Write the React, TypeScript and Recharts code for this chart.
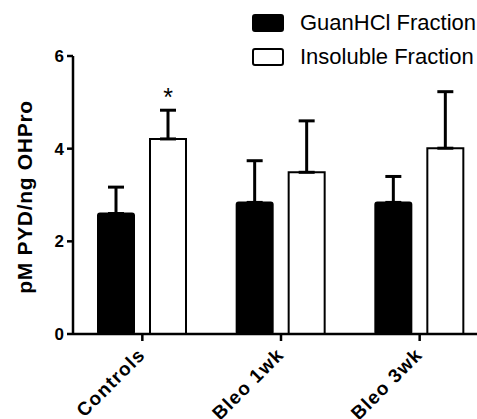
import React from "react";
import { BarChart, Bar, XAxis, YAxis, Legend, ErrorBar, LabelList, Label } from "recharts";

const categories = ["Controls", "Bleo 1wk", "Bleo 3wk"];
const guanhcl = [2.6, 2.84, 2.84];
const guanhclErr = [0.57, 0.9, 0.56];
const insoluble = [4.21, 3.49, 4.01];
const insolubleErr = [0.62, 1.11, 1.22];
const signif = ["*", "", ""];
const yTicks = [0, 2, 4, 6];

const data = categories.map((name, i) => ({
  name,
  guan: guanhcl[i],
  guanErr: [0, guanhclErr[i]],
  insol: insoluble[i],
  insolErr: [0, insolubleErr[i]],
  sig: signif[i],
}));

const font = '"Liberation Sans", Arial, Helvetica, sans-serif';

const XTick = (props: any) => {
  const { x, y, payload } = props;
  return (
    <g transform={`translate(${x + 4},${y + 13})`}>
      <text
        textAnchor="end"
        transform="rotate(-45)"
        fontSize={19}
        fontWeight="bold"
        letterSpacing={1.2}
        fill="#000"
        fontFamily={font}
      >
        {payload.value}
      </text>
    </g>
  );
};

const YLabel = (props: any) => {
  const vb = props.viewBox;
  const cx = vb.x + 32;
  const cy = vb.y + vb.height / 2 + 2;
  return (
    <text
      x={cx}
      y={cy}
      transform={`rotate(-90 ${cx} ${cy})`}
      textAnchor="middle"
      fontSize={21}
      fontWeight="bold"
      letterSpacing={0.7}
      fill="#000"
      fontFamily={font}
    >
      pM PYD/ng OHPro
    </text>
  );
};

const Star = (props: any) => {
  const { x, y, width, value } = props;
  if (!value) return null;
  return (
    <text
      x={Number(x) + Number(width) / 2}
      y={Number(y) - 33}
      textAnchor="middle"
      fontSize={25}
      fill="#000"
      fontFamily={font}
    >
      {value}
    </text>
  );
};

const renderLegend = (props: any) => {
  const { payload } = props;
  return (
    <div style={{ fontFamily: font, fontSize: 22, color: "#000", whiteSpace: "nowrap" }}>
      {payload.map((entry: any, i: number) => (
        <div key={i} style={{ display: "flex", alignItems: "center", height: 34 }}>
          <span
            style={{
              display: "inline-block",
              width: 28,
              height: 14,
              background: entry.color,
              border: "2px solid #000",
              borderRadius: 3,
              marginRight: 16,
            }}
          />
          <span>{entry.value}</span>
        </div>
      ))}
    </div>
  );
};

export default function App() {
  return (
    <div
      style={{
        position: "fixed",
        top: 0,
        left: 0,
        width: 477,
        height: 419,
        overflow: "hidden",
        background: "#fff",
      }}
    >
      <BarChart
        width={500}
        height={419}
        data={data}
        margin={{ top: 56, right: 11, bottom: 0, left: 0 }}
        barGap={16}
      >
        <XAxis
          dataKey="name"
          height={85}
          interval={0}
          tickSize={7}
          axisLine={{ stroke: "#000", strokeWidth: 2.5 }}
          tickLine={{ stroke: "#000", strokeWidth: 2.5 }}
          tick={<XTick />}
        />
        <YAxis
          domain={[0, 6]}
          ticks={yTicks}
          width={73}
          tickSize={6}
          tickMargin={3}
          axisLine={{ stroke: "#000", strokeWidth: 2.5 }}
          tickLine={{ stroke: "#000", strokeWidth: 2.5 }}
          tick={{ fill: "#000", fontSize: 17, fontWeight: "bold", fontFamily: font }}
        >
          <Label content={<YLabel />} />
        </YAxis>
        <Legend
          layout="vertical"
          align="center"
          verticalAlign="middle"
          wrapperStyle={{ top: 6, left: 252, width: 300 }}
          content={renderLegend}
        />
        <Bar
          dataKey="guan"
          name="GuanHCl Fraction"
          fill="#000"
          stroke="#000"
          strokeWidth={2}
          barSize={36}
          radius={2}
          isAnimationActive={false}
        >
          <ErrorBar dataKey="guanErr" width={8} stroke="#000" strokeWidth={3} direction="y" />
        </Bar>
        <Bar
          dataKey="insol"
          name="Insoluble Fraction"
          fill="#fff"
          stroke="#000"
          strokeWidth={2}
          barSize={36}
          isAnimationActive={false}
        >
          <ErrorBar dataKey="insolErr" width={8} stroke="#000" strokeWidth={3} direction="y" />
          <LabelList dataKey="sig" content={<Star />} />
        </Bar>
      </BarChart>
    </div>
  );
}
